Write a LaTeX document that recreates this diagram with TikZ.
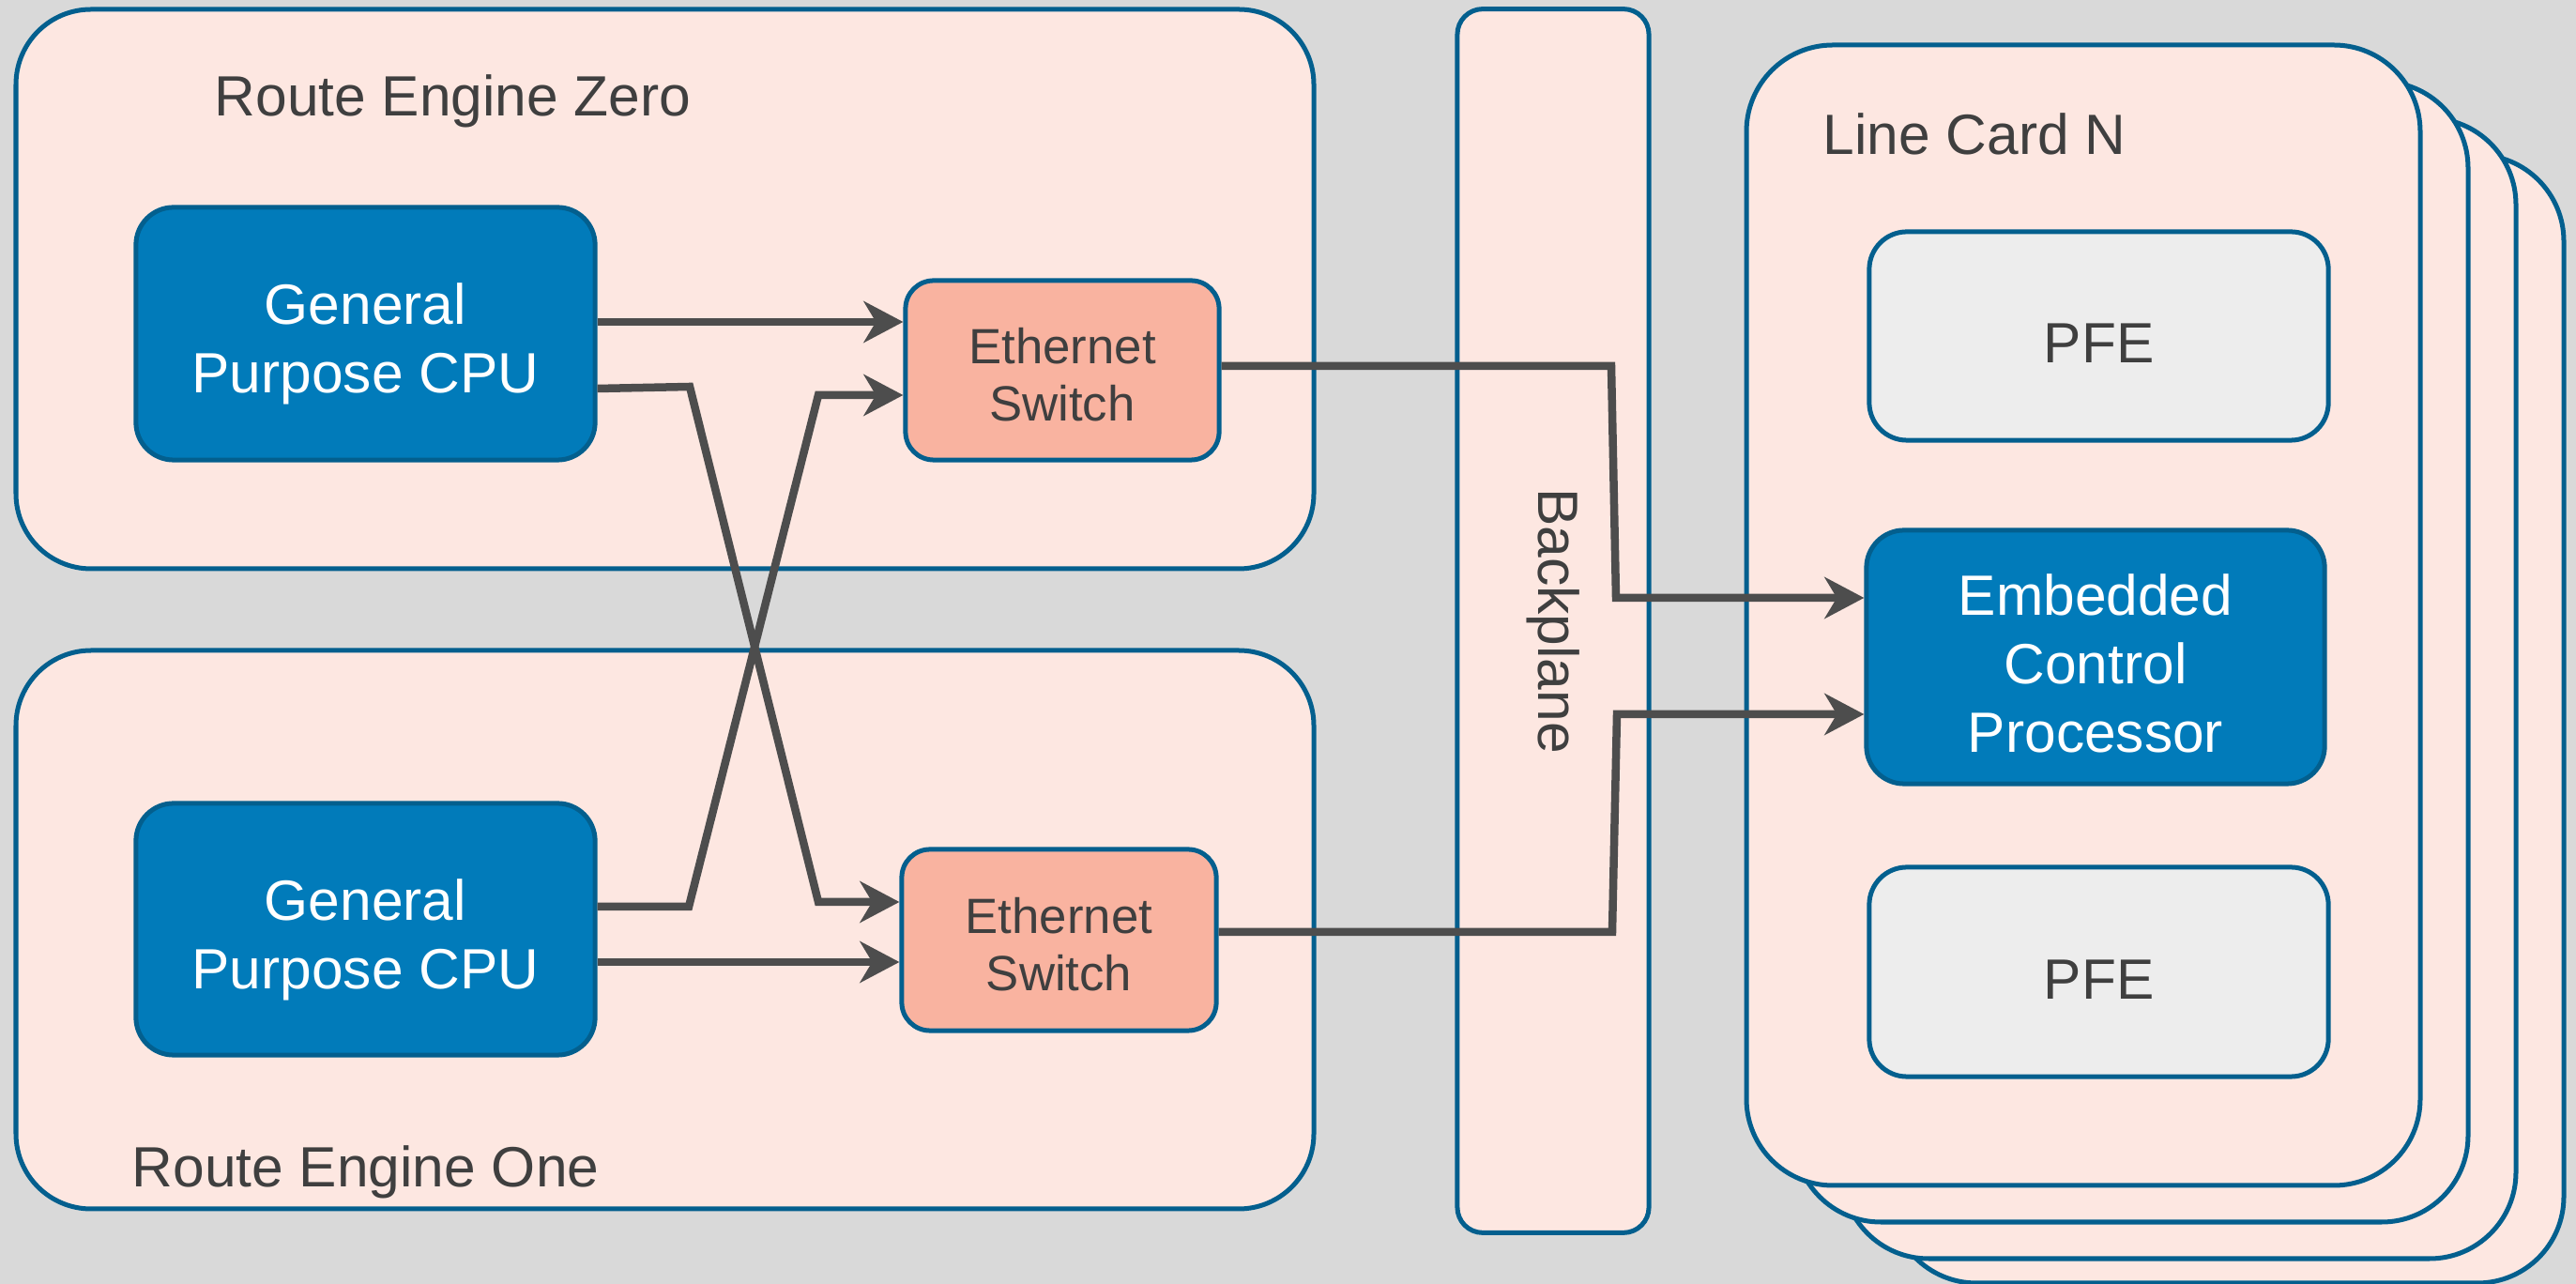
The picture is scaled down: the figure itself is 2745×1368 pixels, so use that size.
\documentclass[tikz,border=0pt]{standalone}
\usepackage{fontspec}
\setmainfont{Liberation Sans}
\usetikzlibrary{arrows.meta}

\definecolor{panelgray}{HTML}{D9D9D9}
\definecolor{boardfill}{HTML}{FDE7E1}
\definecolor{edgeblue}{HTML}{035F8E}
\definecolor{cpublue}{HTML}{017BBA}
\definecolor{switchfill}{HTML}{F9B3A0}
\definecolor{pfefill}{HTML}{EDEDED}
\definecolor{wiregray}{HTML}{4D4D4D}
\definecolor{labelgray}{HTML}{3F3F3F}

% invisible strut that pushes the first text line down a little
\newcommand{\toppad}[1]{\rule{0pt}{#1}}

\tikzset{
  board/.style={draw=edgeblue, line width=0.05cm, fill=boardfill, rounded corners=0.8cm},
  card/.style={draw=edgeblue, line width=0.05cm, fill=boardfill, rounded corners=0.92cm},
  title/.style={text=labelgray, inner sep=0pt, font=\fontsize{17.2}{20.8}\selectfont},
  chip/.style={draw=edgeblue, line width=0.05cm, rounded corners=0.4cm, align=center,
    inner sep=0pt, font=\fontsize{17.2}{20.8}\selectfont},
  cpu/.style={chip, fill=cpublue, text=white},
  switch/.style={chip, fill=switchfill, text=labelgray, rounded corners=0.3cm,
    font=\fontsize{15}{17.4}\selectfont},
  pfe/.style={chip, fill=pfefill, text=labelgray},
  wire/.style={draw=wiregray, line width=0.085cm,
    -{Stealth[length=0.42cm, width=0.44cm, inset=0.13cm]}}
}

\begin{document}
\begin{tikzpicture}[x=0.01cm, y=-0.01cm]
\useasboundingbox (0,0) rectangle (2745,1368);
\fill[panelgray] (0,0) rectangle (2745,1368);

% the two route engines
\draw[board] (17,10) rectangle (1400,606);
\draw[board] (17,693) rectangle (1400,1288);
\node[title, anchor=base west] (reZeroTitle) at (228,124) {Route Engine Zero};
\node[title, anchor=base west] (reOneTitle) at (140,1265) {Route Engine One};

% backplane
\node[board, rounded corners=0.27cm, minimum width=2.04cm, minimum height=13.03cm,
  text=labelgray, font=\fontsize{17.2}{20.8}\selectfont] (backplane) at (1655,661.5)
  {\rotatebox{-90}{Backplane}};

% stack of line cards, back to front
\foreach \cx/\ctop/\cbot in {153/165/1367, 102/126/1341, 51/87/1302, 0/48/1263}
  \draw[card] ({1861+\cx},\ctop) rectangle ({2579+\cx},\cbot);
\node[title, anchor=base west] (cardTitle) at (1942,165) {Line Card N};

% processors and switches
\node[cpu, minimum width=4.89cm, minimum height=2.69cm] (cpuZero) at (389.5,355.5)
  {\toppad{0.66cm}General\\Purpose CPU};
\node[cpu, minimum width=4.89cm, minimum height=2.68cm] (cpuOne) at (389.5,990)
  {\toppad{0.66cm}General\\Purpose CPU};
\node[switch, minimum width=3.34cm, minimum height=1.91cm] (swZero) at (1132,394.5)
  {\toppad{0.47cm}Ethernet\\Switch};
\node[switch, minimum width=3.35cm, minimum height=1.93cm] (swOne) at (1128.5,1001.5)
  {\toppad{0.47cm}Ethernet\\Switch};

\node[pfe, minimum width=4.89cm, minimum height=2.22cm] (pfeZero) at (2236.5,358)
  {\toppad{0.57cm}PFE};
\node[cpu, minimum width=4.88cm, minimum height=2.70cm] (ecp) at (2233,700)
  {\toppad{0.57cm}Embedded\\Control\\Processor};
\node[pfe, minimum width=4.89cm, minimum height=2.23cm] (pfeOne) at (2236.5,1035.5)
  {\toppad{0.57cm}PFE};

% cross links between the engines
\coordinate (xA1) at (735,412);
\coordinate (xA2) at (872,961);
\coordinate (xB1) at (734,966);
\coordinate (xB2) at (872,421);
\draw[wire] (cpuZero.east |- 0,343) -- (swZero.west |- 0,343);
\draw[wire] (cpuZero.east |- 0,414) -- (xA1) -- (xA2) -- (swOne.west |- xA2);
\draw[wire] (cpuOne.east |- 0,966) -- (xB1) -- (xB2) -- (swZero.west |- xB2);
\draw[wire] (cpuOne.east |- 0,1025) -- (swOne.west |- 0,1025);

% through the backplane to the line card
\coordinate (bpA1) at (1717,390);
\coordinate (bpA2) at (1722,637);
\coordinate (bpB1) at (1718,993);
\coordinate (bpB2) at (1723,761);
\draw[wire] (swZero.east |- bpA1) -- (bpA1) -- (bpA2) -- (ecp.west |- bpA2);
\draw[wire] (swOne.east |- bpB1) -- (bpB1) -- (bpB2) -- (ecp.west |- bpB2);
\end{tikzpicture}
\end{document}
